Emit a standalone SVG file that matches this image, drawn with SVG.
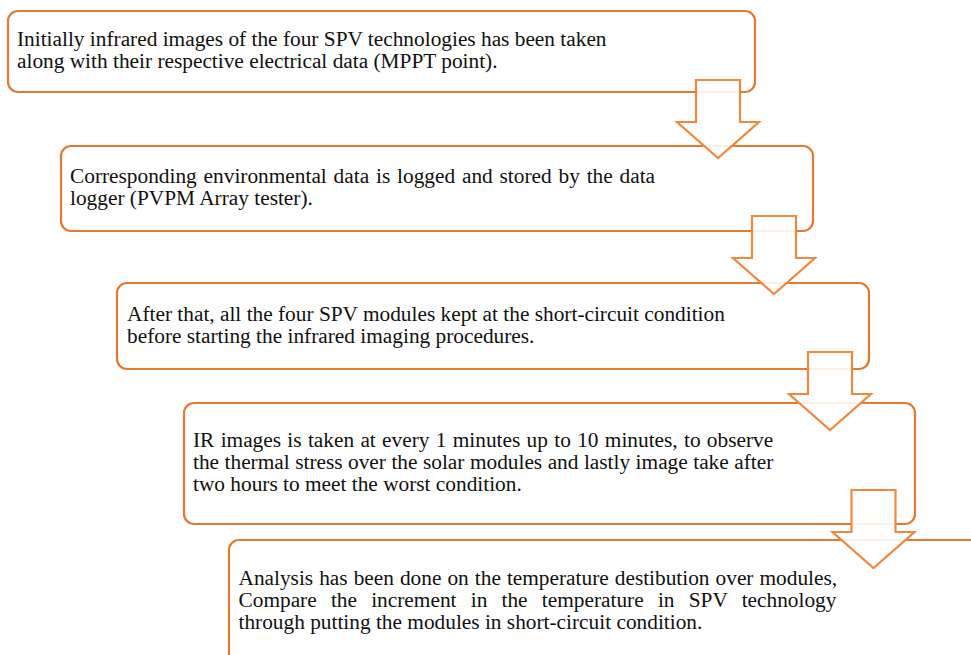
<svg xmlns="http://www.w3.org/2000/svg" xmlns:xlink="http://www.w3.org/1999/xlink" width="971" height="655" viewBox="0 0 971 655">
<style>
.box{fill:#ffffff;stroke:#E4792F;stroke-width:2.2}
.t{font-family:"Liberation Serif","Times New Roman",serif;font-size:21.33px;fill:#111111}
.arr{fill:#ffffff;fill-opacity:0.88;stroke:#F0883F;stroke-width:2.2;stroke-linejoin:miter}
</style>
<defs>
<path id="downArrow" d="M-22,0 H22 V42 H41 L0,78 L-41,42 H-22 Z"/>
</defs>
<rect width="971" height="655" fill="#ffffff"/>
<g id="step1">
<rect class="box" x="8" y="11" width="747" height="81" rx="10"/>
<text class="t" x="17" y="46">Initially infrared images of the four SPV technologies has been taken</text>
<text class="t" x="17" y="68">along with their respective electrical data (MPPT point).</text>
</g>
<g id="step2">
<rect class="box" x="61" y="146" width="752" height="85" rx="10"/>
<text class="t" x="70" y="183" word-spacing="1.5">Corresponding environmental data is logged and stored by the data</text>
<text class="t" x="70" y="205">logger (PVPM Array tester).</text>
</g>
<g id="step3">
<rect class="box" x="117" y="283" width="752" height="86" rx="10"/>
<text class="t" x="127" y="320.5">After that, all the four SPV modules kept at the short-circuit condition</text>
<text class="t" x="127" y="342.5">before starting the infrared imaging procedures.</text>
</g>
<g id="step4">
<rect class="box" x="184" y="403" width="731" height="121" rx="10"/>
<text class="t" x="193" y="447" word-spacing="0.98">IR images is taken at every 1 minutes up to 10 minutes, to observe</text>
<text class="t" x="193" y="469" word-spacing="0.15">the thermal stress over the solar modules and lastly image take after</text>
<text class="t" x="193" y="491">two hours to meet the worst condition.</text>
</g>
<g id="step5">
<rect class="box" x="229" y="540" width="800" height="160" rx="10"/>
<text class="t" x="238.5" y="585" word-spacing="0.7">Analysis has been done on the temperature destibution over modules,</text>
<text class="t" x="238.5" y="607" word-spacing="8.9">Compare the increment in the temperature in SPV technology</text>
<text class="t" x="238.5" y="629">through putting the modules in short-circuit condition.</text>
</g>
<g id="connectors">
<use xlink:href="#downArrow" href="#downArrow" class="arr" transform="translate(718,80)"/>
<use xlink:href="#downArrow" href="#downArrow" class="arr" transform="translate(774,216)"/>
<use xlink:href="#downArrow" href="#downArrow" class="arr" transform="translate(830,352)"/>
<use xlink:href="#downArrow" href="#downArrow" class="arr" transform="translate(873.5,490)"/>
</g>
</svg>
